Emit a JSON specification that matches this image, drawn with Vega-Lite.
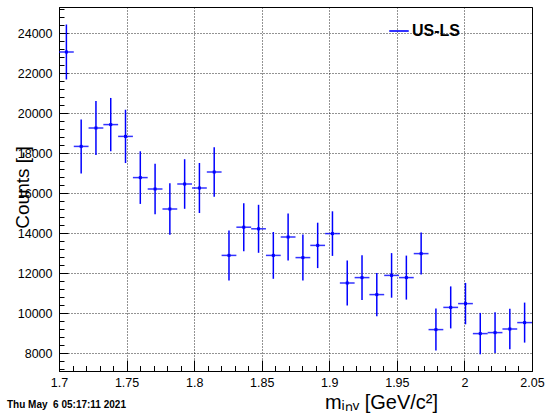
{
  "$schema": "https://vega.github.io/schema/vega-lite/v6.json",
  "width": 473,
  "height": 364,
  "autosize": {"type": "none"},
  "padding": {"left": 59, "top": 7, "right": 13, "bottom": 45},
  "background": "white",
  "title": {"text": "Thu May \u00a06 05:17:11 2021", "orient": "bottom", "anchor": "start", "frame": "group", "fontSize": 10, "fontWeight": "bold", "font": "Liberation Sans", "color": "black", "dx": -52, "offset": -4, "baseline": "alphabetic"},
  "config": {"view": {"stroke": "black", "strokeWidth": 1}, "font": "Liberation Sans"},
  "data": {"values": [
    {"lo": 1.7, "hi": 1.7109375, "m": 1.70546875, "n": 23050, "e": 1375},
    {"lo": 1.7109375, "hi": 1.721875, "m": 1.71640625, "n": 18330, "e": 1350},
    {"lo": 1.721875, "hi": 1.7328125, "m": 1.72734375, "n": 19250, "e": 1350},
    {"lo": 1.7328125, "hi": 1.74375, "m": 1.73828125, "n": 19420, "e": 1333},
    {"lo": 1.74375, "hi": 1.7546875, "m": 1.74921875, "n": 18830, "e": 1333},
    {"lo": 1.7546875, "hi": 1.765625, "m": 1.76015625, "n": 16770, "e": 1316},
    {"lo": 1.765625, "hi": 1.7765625, "m": 1.77109375, "n": 16200, "e": 1267},
    {"lo": 1.7765625, "hi": 1.7875, "m": 1.78203125, "n": 15200, "e": 1290},
    {"lo": 1.7875, "hi": 1.7984375, "m": 1.79296875, "n": 16450, "e": 1240},
    {"lo": 1.7984375, "hi": 1.809375, "m": 1.80390625, "n": 16250, "e": 1250},
    {"lo": 1.809375, "hi": 1.8203125, "m": 1.81484375, "n": 17050, "e": 1240},
    {"lo": 1.8203125, "hi": 1.83125, "m": 1.82578125, "n": 12880, "e": 1250},
    {"lo": 1.83125, "hi": 1.8421875, "m": 1.83671875, "n": 14290, "e": 1200},
    {"lo": 1.8421875, "hi": 1.853125, "m": 1.84765625, "n": 14210, "e": 1200},
    {"lo": 1.853125, "hi": 1.8640625, "m": 1.85859375, "n": 12880, "e": 1170},
    {"lo": 1.8640625, "hi": 1.875, "m": 1.86953125, "n": 13800, "e": 1170},
    {"lo": 1.875, "hi": 1.8859375, "m": 1.88046875, "n": 12770, "e": 1150},
    {"lo": 1.8859375, "hi": 1.896875, "m": 1.89140625, "n": 13380, "e": 1135},
    {"lo": 1.896875, "hi": 1.9078125, "m": 1.90234375, "n": 13970, "e": 1115},
    {"lo": 1.9078125, "hi": 1.91875, "m": 1.91328125, "n": 11500, "e": 1130},
    {"lo": 1.91875, "hi": 1.9296875, "m": 1.92421875, "n": 11770, "e": 1115},
    {"lo": 1.9296875, "hi": 1.940625, "m": 1.93515625, "n": 10920, "e": 1085},
    {"lo": 1.940625, "hi": 1.9515625, "m": 1.94609375, "n": 11880, "e": 1115},
    {"lo": 1.9515625, "hi": 1.9625, "m": 1.95703125, "n": 11770, "e": 1100},
    {"lo": 1.9625, "hi": 1.9734375, "m": 1.96796875, "n": 12970, "e": 1050},
    {"lo": 1.9734375, "hi": 1.984375, "m": 1.97890625, "n": 9170, "e": 1050},
    {"lo": 1.984375, "hi": 1.9953125, "m": 1.98984375, "n": 10280, "e": 1050},
    {"lo": 1.9953125, "hi": 2.00625, "m": 2.00078125, "n": 10470, "e": 1035},
    {"lo": 2.00625, "hi": 2.0171875, "m": 2.01171875, "n": 8970, "e": 1035},
    {"lo": 2.0171875, "hi": 2.028125, "m": 2.02265625, "n": 9020, "e": 1020},
    {"lo": 2.028125, "hi": 2.0390625, "m": 2.03359375, "n": 9200, "e": 1015},
    {"lo": 2.0390625, "hi": 2.05, "m": 2.04453125, "n": 9520, "e": 1000}
  ]},
  "layer": [
    {
      "mark": {"type": "rule", "strokeWidth": 1.5, "opacity": 0.8},
      "encoding": {
        "x": {"field": "lo", "type": "quantitative", "title": "m\u1d62\u2099\u1d65 [GeV/c\u00b2]",
          "scale": {"domain": [1.7, 2.05], "nice": false, "zero": false},
          "axis": {
            "tickCount": 200,
            "values": [1.7,1.71,1.72,1.73,1.74,1.75,1.76,1.77,1.78,1.79,1.8,1.81,1.82,1.83,1.84,1.85,1.86,1.87,1.88,1.89,1.9,1.91,1.92,1.93,1.94,1.95,1.96,1.97,1.98,1.99,2.0,2.01,2.02,2.03,2.04,2.05],
            "labelExpr": "abs(datum.value*20 - round(datum.value*20)) < 0.001 ? format(datum.value, '.2~f') : ''",
            "tickSize": {"condition": {"test": "abs(datum.value*20 - round(datum.value*20)) < 0.001", "value": -11}, "value": -5.5},
            "grid": true,
            "gridOpacity": {"condition": {"test": "abs(datum.value*20 - round(datum.value*20)) < 0.001", "value": 0.85}, "value": 0},
            "gridDash": [1, 2], "gridColor": "black", "gridWidth": 1,
            "tickColor": "black", "tickWidth": 1, "domainColor": "black", "domainWidth": 1,
            "labelFont": "Liberation Sans", "labelFontSize": 12.5, "labelColor": "black", "labelPadding": 16,
            "labelFlush": false, "labelOverlap": false,
            "titleFont": "Liberation Sans", "titleFontSize": 20, "titleFontWeight": "normal", "titleColor": "black",
            "titleX": 322, "titleY": 37, "titleAlign": "center", "titleBaseline": "alphabetic"
          }
        },
        "x2": {"field": "hi"},
        "y": {"field": "n", "type": "quantitative", "title": "Counts [-]",
          "scale": {"domain": [7100, 25300], "nice": false, "zero": false},
          "axis": {
            "tickCount": 200,
            "values": [7200,7600,8000,8400,8800,9200,9600,10000,10400,10800,11200,11600,12000,12400,12800,13200,13600,14000,14400,14800,15200,15600,16000,16400,16800,17200,17600,18000,18400,18800,19200,19600,20000,20400,20800,21200,21600,22000,22400,22800,23200,23600,24000,24400,24800,25200],
            "labelExpr": "datum.value % 2000 == 0 ? format(datum.value, 'd') : ''",
            "tickSize": {"condition": {"test": "datum.value % 2000 == 0", "value": -9}, "value": -5},
            "grid": true,
            "gridOpacity": {"condition": {"test": "datum.value % 2000 == 0", "value": 0.85}, "value": 0},
            "gridDash": [1, 2], "gridColor": "black", "gridWidth": 1,
            "tickColor": "black", "tickWidth": 1, "domainColor": "black", "domainWidth": 1,
            "labelFont": "Liberation Sans", "labelFontSize": 12.5, "labelColor": "black", "labelPadding": 16,
            "labelFlush": false, "labelOverlap": false,
            "titleFont": "Liberation Sans", "titleFontSize": 19, "titleFontWeight": "normal", "titleColor": "black",
            "titleX": -31, "titleY": 180, "titleAlign": "center", "titleBaseline": "alphabetic", "titleAngle": -90
          }
        },
        "color": {"datum": "US-LS", "type": "nominal", "scale": {"range": ["#0000ff"]},
          "legend": {"orient": "none", "legendX": 329, "legendY": 13, "title": null, "symbolType": "stroke", "symbolSize": 380, "symbolStrokeWidth": 2, "symbolStrokeColor": "#0000ff", "labelFontSize": 16, "labelFontWeight": "bold", "labelColor": "black", "labelFont": "Liberation Sans", "padding": 0, "labelOffset": 2}
        }
      }
    },
    {
      "mark": {"type": "errorbar", "color": "#0000ff", "thickness": 1.5},
      "encoding": {
        "x": {"field": "m", "type": "quantitative", "title": "m\u1d62\u2099\u1d65 [GeV/c\u00b2]"},
        "y": {"field": "n", "type": "quantitative", "title": "Counts [-]"},
        "yError": {"field": "e"}
      }
    },
    {
      "mark": {"type": "square", "color": "#0000ff", "size": 9, "opacity": 1, "filled": true},
      "encoding": {
        "x": {"field": "m", "type": "quantitative", "title": "m\u1d62\u2099\u1d65 [GeV/c\u00b2]"},
        "y": {"field": "n", "type": "quantitative", "title": "Counts [-]"}
      }
    }
  ]
}
